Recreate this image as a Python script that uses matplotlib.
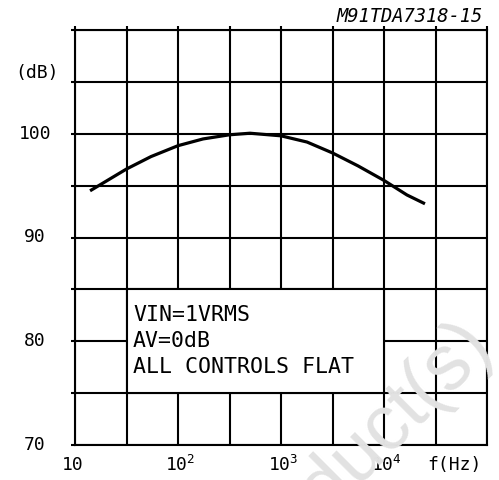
import numpy as np
import matplotlib
matplotlib.use("Agg")
import matplotlib.pyplot as plt
from matplotlib.patches import Rectangle
import matplotlib.transforms as mtransforms

plt.rcParams['font.family'] = ['DejaVu Sans Mono']
plt.rcParams['mathtext.fontset'] = 'custom'
plt.rcParams['mathtext.rm'] = 'DejaVu Sans Mono'

# data
freq = [14, 31.6, 54.7, 100, 175, 316, 500, 1000, 1790, 3162, 5600, 10000, 16700, 25000]
gain = [94.5, 96.6, 97.8, 98.85, 99.5, 99.9, 100.05, 99.8, 99.2, 98.15, 96.9, 95.5, 94.1, 93.25]

y_labels = [70, 80, 90, 100]
x_decades = [10, 100, 1000, 10000]
x_names = ['10', r'$\mathrm{10}^{\mathrm{2}}$', r'$\mathrm{10}^{\mathrm{3}}$', r'$\mathrm{10}^{\mathrm{4}}$']
note_lines = ['VIN=1VRMS', 'AV=0dB', 'ALL CONTROLS FLAT']

fig = plt.figure(figsize=(4.99, 4.80), dpi=100)
ax = fig.add_axes([75/499, 35/480, 412/499, 415/480])
ax.set_facecolor('none')

# watermark from the datasheet scan (cut off at the bottom, as in the scan)
fig.text(494/499, 1-345/480, 'Product(s)', fontsize=56, color='#e2e2e2',
         family='Liberation Sans', rotation=45, rotation_mode='anchor',
         ha='right', va='baseline', zorder=0)

ax.set_xscale('log')
ax.set_xlim(10, 1e5)
ax.set_ylim(70, 110)
ax.set_xticks(10 ** np.arange(1, 5.01, 0.5))
ax.set_yticks(np.arange(70, 111, 5))
ax.xaxis.set_minor_locator(plt.NullLocator())
ax.tick_params(axis='x', which='major', direction='out', length=3, width=1.5,
               top=True, bottom=False, labelbottom=False, labeltop=False)
ax.tick_params(axis='y', which='major', direction='out', length=3, width=1.5,
               left=True, right=False, labelleft=False)
ax.set_axisbelow(True)
ax.grid(True, color='black', linewidth=1.5)
for s in ax.spines.values():
    s.set_linewidth(1.5)

ax.add_patch(Rectangle((10**1.5, 75), 10**4 - 10**1.5, 10, facecolor='white',
                       edgecolor='black', linewidth=1.5, zorder=1.5))

ax.plot(freq, gain, color='black', linewidth=2.3, solid_capstyle='butt', zorder=3)

ytr = mtransforms.blended_transform_factory(ax.transAxes, ax.transData)
for v in y_labels:
    ax.text(-0.097, v, str(v), transform=ytr, ha='center', va='center', fontsize=13)
ax.text(-0.092, 0.896, '(dB)', transform=ax.transAxes, ha='center', va='center', fontsize=13)

for f, name in zip(x_decades, x_names):
    if f == 10:
        ax.annotate(name, xy=(f, 0), xycoords=('data', 'axes fraction'), xytext=(-2, -20),
                    textcoords='offset pixels', ha='center', va='center', fontsize=13)
    else:
        ax.annotate(name, xy=(f, 0), xycoords=('data', 'axes fraction'), xytext=(-13, -20),
                    textcoords='offset pixels', ha='left', va='center', fontsize=13)
ax.text(0.922, -0.048, 'f(Hz)', transform=ax.transAxes, ha='center', va='center', fontsize=13)

for i, line in enumerate(note_lines):
    fig.text(133/499, 1 - (315 + 26*i)/480, line, ha='left', va='center', fontsize=15.5)

fig.text(483/499, 1 - 17/480, 'M91TDA7318-15', ha='right', va='center', fontsize=13.5,
         style='oblique')

fig.savefig('out.png', dpi=100)
